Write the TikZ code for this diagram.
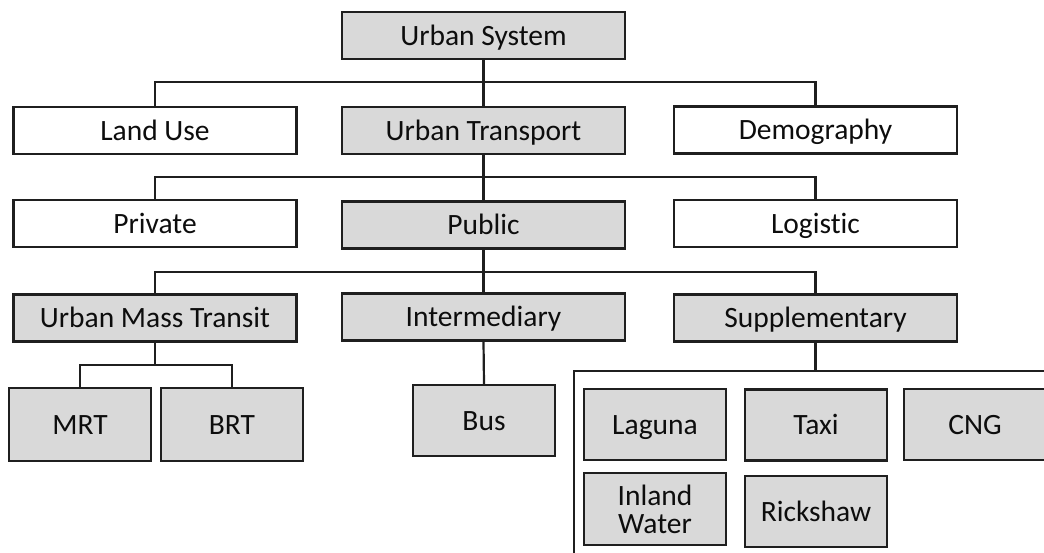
\documentclass[tikz,border=0pt]{standalone}
\usepackage{fontspec}
\setmainfont[Ligatures=CommonOff]{Carlito}
\begin{document}
\begin{tikzpicture}[x=1pt,y=-1pt,
  box/.style={draw=black!88, line width=2.2pt, rectangle, inner sep=0pt,
    align=center, font=\fontsize{29.5}{31}\selectfont, text=black!95,
    text height=19pt, text depth=0pt},
  gbox/.style={box, fill=black!15},
  wbox/.style={box, fill=white},
  wide/.style={minimum width=283pt, minimum height=47pt},
  small/.style={minimum width=142pt, minimum height=71pt},
  link/.style={draw=black!88, line width=2.2pt}]
\useasboundingbox (0,0) rectangle (1044,552);
\clip (0,0) rectangle (1044,552);

% level 1 and 2
\node[gbox, wide] (us) at (483.5,35.5) {Urban System};
\node[wbox, wide] (lu) at (155,130.5) {Land Use};
\node[gbox, wide] (ut) at (483.5,130.5) {Urban Transport};
\node[wbox, wide] (dm) at (815.5,130) {Demography};

% level 3
\node[wbox, wide] (pr) at (155,223.5) {Private};
\node[gbox, wide] (pu) at (483.5,225) {Public};
\node[wbox, wide] (lg) at (815.5,223.5) {Logistic};

% level 4
\node[gbox, wide] (umt) at (155,318) {Urban Mass Transit};
\node[gbox, wide] (im) at (483.5,317) {Intermediary};
\node[gbox, wide] (sp) at (815.5,318) {Supplementary};

% modes
\node[gbox, small, minimum height=73pt] (mrt) at (80,424.5) {MRT};
\node[gbox, small, minimum height=73pt] (brt) at (232,424.5) {BRT};
\node[gbox, small] (bus) at (484,420.5) {Bus};
\node[gbox, small] (lag) at (655,424.5) {Laguna};
\node[gbox, small] (taxi) at (816,425) {Taxi};
\node[gbox, small] (cng) at (975,424.5) {CNG};
\node[gbox, small, minimum height=72pt, text height=48pt] (iw) at (655,509) {Inland\\[-3pt]Water};
\node[gbox, small] (rk) at (816,511.5) {Rickshaw};

% junction points of the bus lines
\coordinate (j1) at (483.5,82);
\coordinate (j2) at (483.5,177);
\coordinate (j3) at (483.5,272);
\coordinate (j4) at (155,365);
\coordinate (j5) at (815.5,371);
\coordinate (fl) at (574,560);
\coordinate (fr) at (1050,371);

\draw[link] (us.south) -- (ut.north);
\draw[link] (lu.north) |- (j1) -| (dm.north);
\draw[link] (ut.south) -- (pu.north);
\draw[link] (pr.north) |- (j2) -| (lg.north);
\draw[link] (pu.south) -- (im.north);
\draw[link] (umt.north) |- (j3) -| (sp.north);
\draw[link] (umt.south) -- (j4);
\draw[link] (mrt.north) |- (j4) -| (brt.north);
\draw[link] (im.south) -- (bus.north);
\draw[link] (sp.south) -- (j5);
\draw[link] (fl) |- (fr);
\end{tikzpicture}
\end{document}
